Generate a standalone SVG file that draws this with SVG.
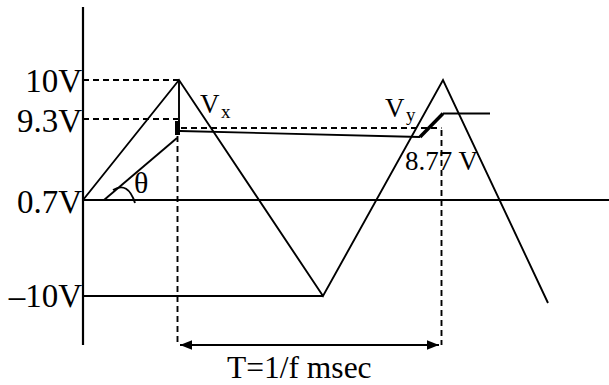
<svg xmlns="http://www.w3.org/2000/svg" width="609" height="385" viewBox="0 0 609 385">
<defs>
<style>
.ln{stroke:#000;stroke-width:1.9;fill:none}
.ax{stroke:#000;stroke-width:2.2;fill:none}
.ds{stroke:#000;stroke-width:1.9;fill:none;stroke-dasharray:6 4}
.tk{stroke:#000;stroke-width:3.5;fill:none}
.lb{font-size:33px;text-anchor:end}
</style>
<marker id="ah" viewBox="0 0 10 10" refX="10" refY="5" markerWidth="6" markerHeight="6" orient="auto-start-reverse" markerUnits="strokeWidth">
<path d="M0,1 L10,5 L0,9 Z" fill="#000"/>
</marker>
</defs>
<rect width="609" height="385" fill="#fff"/>
<g id="axes">
<line class="ax" x1="83" y1="7" x2="83" y2="345"/>
<line class="ln" x1="83" y1="200" x2="609" y2="200"/>
<line class="ln" x1="83" y1="296" x2="323" y2="296"/>
</g>
<g id="guides">
<line class="ds" x1="83" y1="80" x2="179" y2="80"/>
<line class="ds" x1="83" y1="119" x2="178" y2="119"/>
<line class="ds" x1="181" y1="128" x2="441.5" y2="128"/>
<line class="ds" x1="177.5" y1="136" x2="177.5" y2="345"/>
<line class="ds" x1="441.5" y1="130" x2="441.5" y2="345"/>
</g>
<g id="waveform">
<polyline class="ln" points="83,200 179,80 323,296 443,80 548,303"/>
<line class="ln" x1="179" y1="80" x2="179" y2="135"/>
<rect x="175" y="121" width="5" height="14" fill="#000"/>
<line class="ln" x1="104" y1="200" x2="177" y2="138"/>
<path class="ln" d="M113,190 Q128,181 135,203"/>
<line class="ln" x1="180" y1="131" x2="420" y2="137"/>
<line class="tk" x1="420" y1="137" x2="443" y2="113.5"/>
<line class="ln" x1="443" y1="113.5" x2="490" y2="113.5"/>
</g>
<g id="period">
<line stroke="#000" stroke-width="2" x1="180" y1="345" x2="439" y2="345" marker-start="url(#ah)" marker-end="url(#ah)"/>
</g>
<g id="labels" font-family="'Liberation Serif', 'Times New Roman', 'DejaVu Serif', serif" fill="#000">
<text class="lb" x="82" y="92">10V</text>
<text class="lb" x="82" y="132">9.3V</text>
<text class="lb" x="82" y="213">0.7V</text>
<text class="lb" x="82" y="307">–10V</text>
<text x="200" y="113" font-size="27">V</text>
<text x="221" y="118" font-size="19">x</text>
<text x="385" y="117" font-size="27">V</text>
<text x="406" y="121" font-size="19">y</text>
<text x="405" y="170" font-size="27">8.77 V</text>
<text x="134" y="193" font-size="30">θ</text>
<text x="227" y="378" font-size="31.5">T=1/f msec</text>
</g>
</svg>
